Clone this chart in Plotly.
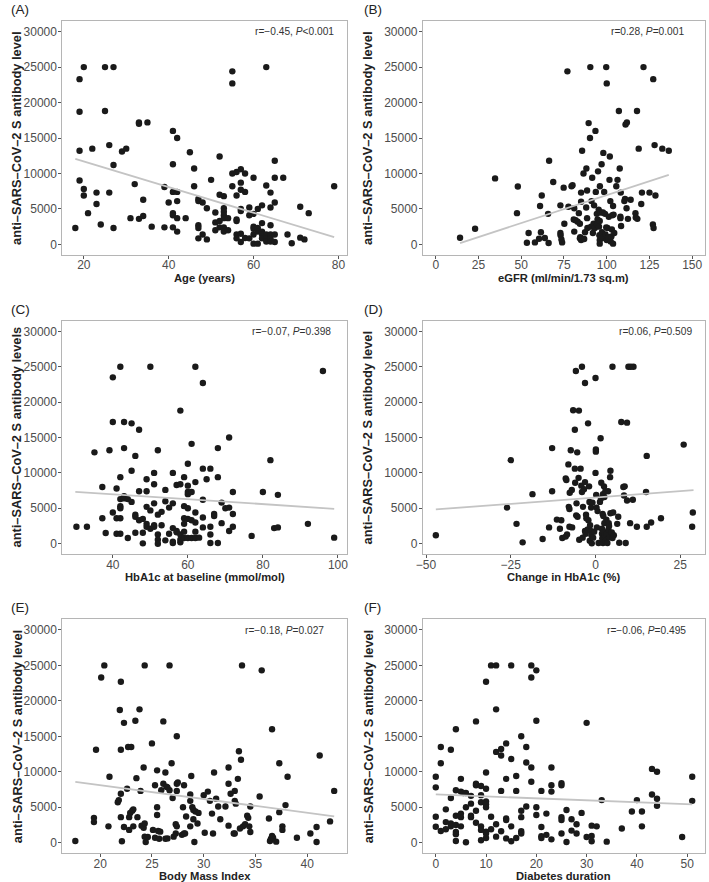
import plotly.graph_objects as go

FONT = "Liberation Sans, Arial, Helvetica, sans-serif"

# ---------------- data ----------------
# Panel A: Age (years)
age_x = [18,19,20,19,19,19,20,20,21,22,
         23,23,24,25,25,26,26,27,27,27,
         29,30,31,32,33,33,33,34,34,35,
         36,39,39,40,41,41,41,41,41,41,
         42,42,42,42,42,44,45,46,46,47,
         47,47,47,47,48,48,49,49,50,51,
         51,51,52,52,52,52,53,53,53,53,
         53,53,53,54,54,55,55,55,55,56,
         56,56,56,56,56,57,57,57,57,57,
         57,57,58,58,58,59,59,59,60,60,
         60,60,60,60,61,61,61,61,62,62,
         62,62,62,63,63,63,63,63,64,64,
         64,64,64,64,65,65,65,65,65,67,
         68,69,71,71,72,73,79]
age_y = [2300,23300,25000,18700,13200,9000,7800,6900,4400,13500,
         7300,5700,2800,25000,18800,14000,7300,25000,11200,2300,
         13100,13500,3700,8500,17000,17200,3600,4000,6300,17200,
         2500,8100,2400,5900,16000,11300,7400,4400,4100,2400,
         15000,7400,6100,3700,1800,3700,13000,10700,8200,6400,
         6100,2700,2300,850,5900,1400,5100,700,9100,4500,
         3100,2000,12400,7000,3300,2400,6800,5100,4600,4100,
         3700,2400,1800,3700,2000,24400,22700,10000,8200,10200,
         6900,3500,3300,1400,850,10600,8700,7700,5000,4700,
         1500,330,10000,7400,900,5200,4100,850,9400,4300,
         2500,2200,1400,100,5000,2300,1800,100,5500,3000,
         1800,1400,850,25000,8300,1400,850,400,7300,5200,
         2700,1400,850,400,11800,9400,5900,1400,330,9400,
         1400,150,5300,950,700,4400,8200]
age_fit_x = [18, 79]
age_fit_y = [12050, 1030]

# Panel B: eGFR
egfr_x = [14.2,23,34.7,47.5,48,53.3,54.3,58,60.4,61,
          61.5,62,63.8,65.7,66,66.3,68.7,72.9,72.9,73,
          73.5,73.9,74.8,75.2,77,77.6,79.4,80,81,80.7,
          81.8,81,83,83.7,84.3,84.5,84.3,85,85,85,
          85.6,85.6,86.4,86.8,87.3,88,88.1,88.5,88.5,88.7,
          89.4,90.2,90.4,90.8,91.1,91.5,91.9,92.3,92.6,93,
          93.4,93.6,94.2,94.4,94.6,94.9,95.3,95.5,95.7,95.9,
          95.9,95.9,96,96.6,97,97.2,97.4,97.8,98,98.5,
          99,99.3,99.7,99.7,100,100,100.4,100.6,101,101.2,
          101.6,101.8,102.1,102.3,102.7,103,103.3,103.7,103.7,104,
          104.4,105.6,106.3,107.1,107.6,108,108,108.2,108.4,110.3,
          110.7,111,111.8,111.6,112.4,114,116.8,117,117.7,117.9,
          118.7,120.2,120.6,121.5,125,127,127.2,127.4,128,128.5,
          132.5,136.3]
egfr_y = [940,2200,9300,4400,8150,230,1600,280,800,5400,
          1700,6900,900,4300,190,11800,8800,5500,1600,1300,
          700,280,8000,2900,24400,5300,8200,8350,5100,3500,
          3400,1800,3200,4400,2900,1000,850,7300,6000,600,
          800,13200,10000,750,1700,5200,10700,7600,3700,2300,
          17100,15000,25000,2500,6100,9400,1600,2900,5500,2300,
          16000,7400,4300,2800,3500,10300,4900,2500,1300,600,
          100,3300,8200,4500,11300,1700,900,4500,12900,7400,
          4300,1400,2400,25000,22700,600,2300,1000,900,3900,
          9100,12400,6100,420,1100,2100,4100,5400,100,4200,
          1600,8200,9100,18800,10700,3900,3700,7300,2600,6100,
          6400,16900,17200,5100,3600,6300,4400,3800,18800,3600,
          13500,5700,7300,25000,7300,2800,23300,2300,14000,6900,
          13500,13200]
egfr_fit_x = [14.2, 136.3]
egfr_fit_y = [190, 9800]

# Panel C: HbA1c at baseline
hba_x = [30.3,33.1,35.1,37.2,37.2,38.1,39.1,40,40,40,
         41,41,41,42,42,42,42,42,42,42,
         43,43,43,43,44,44,45,45,45,46,
         46,46,46,47,47,47,48,48,48,49,
         49,49,49,49,50,50,50,51,51,51,
         51,51,52,52,52,52,52,53,53,54,
         54,54,55,55,56,56,56,56,56,57,
         57,57,58,58,58,58,58,59,59,59,
         59,59,59,60,60,60,60,60,60,60,
         61,61,61,61,62,62,62,62,62,62,
         63,64,64,64,64,64,65,66,66,66,
         66,67,67,68,68,68,69,69,70,71,
         71,71,72,72,72,77,80,82,83,84,
         84,92,96,99]
hba_y = [2400,2400,12900,8000,3600,1500,13200,23500,17200,4400,
         7800,3600,1400,25000,9400,6300,5300,5000,3600,1400,
         17200,13500,6700,6400,6300,800,17000,10300,5900,12400,
         4100,3800,1550,16100,7400,3300,3500,1550,50,9100,
         7400,5200,2800,2400,4700,2100,25000,10000,8400,5700,
         2600,2400,13200,4100,1300,560,0,4500,2600,7600,
         6000,470,5100,1400,10000,5700,2200,280,100,8300,
         1800,1600,18800,8400,1300,560,190,9400,5300,3600,
         2800,1700,800,11300,8200,7300,7000,5000,3500,800,
         7300,14100,3300,800,25000,8700,4400,3000,1700,800,
         850,22700,10600,6200,3700,2300,9100,10600,2400,1300,
         100,4200,3900,13500,9400,100,5800,2900,5000,15000,
         5100,1800,7300,4200,2400,1100,7300,11800,2200,2300,
         6900,2800,24400,850]
hba_fit_x = [30, 99]
hba_fit_y = [7330, 4930]

# Panel D: Change in HbA1c (%)
chg_x = [-47.1,-26.1,-25.0,-23.3,-21.5,-18.6,-15.6,-13.7,-12.8,-12.8,
         -11.4,-10.5,-10.1,-9.8,-8.8,-8.8,-8.6,-8.4,-8.0,-7.9,
         -7.7,-7.7,-7.6,-7.3,-7.0,-6.9,-6.6,-6.1,-6.1,-6.0,
         -5.8,-5.7,-5.6,-5.4,-5.3,-5.0,-4.9,-4.8,-4.4,-4.2,
         -4.0,-4.0,-3.8,-3.7,-3.4,-3.1,-3.1,-3.1,-2.9,-2.8,
         -2.7,-2.3,-2.2,-2.1,-1.9,-1.8,-1.7,-1.6,-1.4,-1.3,
         -1.2,-1.1,-0.9,-0.7,-0.4,0.0,0.0,0.1,0.1,0.2,
         0.3,0.4,0.6,0.9,1.3,1.5,1.6,1.7,1.9,1.9,
         2.0,2.1,2.2,2.2,2.3,2.4,2.5,2.6,2.6,2.7,
         2.9,3.0,3.2,3.3,3.5,3.7,3.8,3.9,4.0,4.1,
         4.3,4.4,4.4,4.8,5.0,5.0,5.2,5.4,6.4,6.7,
         7.0,7.6,8.2,8.4,8.6,8.9,9.3,9.3,9.7,10.2,
         10.4,11.0,11.2,12.2,14.9,15.1,15.1,16.4,19.3,26.0,
         28.5,28.7]
chg_y = [1200,5100,11800,2800,190,7000,660,2300,7400,13500,
         3400,2100,3300,800,1000,9200,9000,1300,11200,5200,
         4900,2400,7200,13200,7600,2300,18850,16100,10600,8600,
         24400,4000,5700,12900,3800,9300,18800,560,10600,8200,
         25000,7300,850,5200,7700,1800,22700,8700,1400,4100,
         3600,2000,17000,3300,8100,5900,420,2600,1800,5100,
         1200,50,5800,850,1700,23400,10000,13300,13000,6900,
         5100,2300,4600,100,5900,14900,6400,8600,2100,1400,
         750,4200,7000,100,3900,1650,8100,2900,6600,1200,
         7400,420,3400,1400,100,7400,2000,2900,2500,900,
         9400,10300,4300,1600,25000,800,4400,1200,2800,3800,
         140,17200,8000,6800,8100,100,17100,6100,25000,2900,
         25000,6200,25000,2400,7300,12400,2400,3000,3600,14000,
         2400,4400]
chg_fit_x = [-47.1, 28.9]
chg_fit_y = [4840, 7560]

# Panel E: Body Mass Index
bmi_x = [17.6,19.4,19.4,19.6,20.1,20.4,20.8,20.9,21.7,21.8,
         21.9,22.0,22.0,22.0,22.0,22.1,22.3,22.3,22.6,22.7,
         22.8,22.8,22.9,23.0,23.1,23.2,23.2,23.4,23.5,23.6,
         23.8,23.9,24.0,24.2,24.2,24.3,24.3,24.3,24.4,24.6,
         25.0,25.1,25.3,25.3,25.5,25.5,25.5,25.6,25.7,25.8,
         25.9,26.1,26.1,26.3,26.3,26.4,26.5,26.5,26.7,26.7,
         26.9,27.0,27.1,27.3,27.3,27.4,27.4,27.4,27.4,27.5,
         27.9,28.0,28.1,28.1,28.2,28.3,28.7,28.7,28.7,28.8,
         28.9,29.0,29.0,29.1,29.2,29.4,29.5,30.1,30.0,30.4,
         30.6,30.8,30.9,31.0,31.2,31.4,31.6,32.1,32.4,32.4,
         32.4,32.6,32.9,33.0,33.0,33.0,33.1,33.3,33.4,33.5,
         33.6,33.7,33.8,34.0,34.2,34.3,34.4,34.5,34.5,35.4,
         35.6,36.3,36.4,36.5,36.6,36.6,36.7,37.0,37.3,37.3,
         37.6,37.6,37.9,38.1,39.0,40.3,40.9,40.9,41.2,42.2,
         42.6]
bmi_y = [230,3500,2900,13100,23300,25000,2300,9300,5700,6000,
         18700,6900,13100,22700,3600,190,16900,2200,7600,13500,
         1800,3600,4200,13500,4500,4700,2300,17200,9100,3600,
         18800,7300,2400,10600,2100,850,25000,2700,100,800,
         14000,1800,8100,700,10200,5000,3900,1650,560,1550,
         7400,17100,8300,9900,560,7900,7800,600,25000,7400,
         11200,6300,850,2600,1300,15000,7300,2300,8300,8500,
         1100,5000,8100,1300,1300,3700,6800,5900,2300,9400,
         5000,3300,4600,100,4400,2700,4200,1400,6700,7200,
         5900,4100,1300,9900,6200,5100,3300,5100,10600,2400,
         8300,6900,1300,7300,5900,1300,5500,9000,12900,2000,
         11700,25000,2300,2600,3800,3500,2300,1500,5100,6500,
         24300,3400,230,560,16000,940,700,140,11200,4300,
         2300,1800,5300,9300,700,1300,2200,100,12300,3000,
         7300]
bmi_fit_x = [17.6, 42.6]
bmi_fit_y = [8580, 3700]

# Panel F: Diabetes duration
dur_x = [0,0,0,0,1,1,1,2,2,2,
         3,3,3,3,4,4,4,4,4,4,
         4,5,5,5,5,5,5.5,6,6,6,
         7,7,7,7,8,8,8,8,8,9,
         9,9,9,9,9,10,10,10,10,10,
         10,10,10,10,11,11,11,12,12,12,
         12,12,13,13,13,13,14,14,14,14,
         14,15,15,15,15,16,16,16,17,17,
         17,17,17,18,18,18,19,19,19,19,
         20,20,20,20,21,21,21,21,22,22,
         23,23,23,23,25,25,25,25,25,26,
         26,27,27,28,28,29,30,30,31,31,
         31,32,33,34,37,39,40,41,41,43,
         43,44,44,44,49,51,51]
dur_y = [9300,7800,3650,2250,1650,11200,13500,4700,2900,1900,
         6300,13100,2700,2300,16000,7400,3800,2500,1500,1200,
         230,7200,9000,4100,3600,2300,7000,50,5000,7000,
         6600,5500,3800,3600,17100,8300,8100,4500,2800,8000,
         6700,5700,2300,1800,330,22700,9900,7600,5800,5400,
         5000,1550,1300,660,25000,3650,1900,25000,18800,12800,
         2600,850,13200,12300,7300,1600,14000,9000,3400,3200,
         600,25000,11800,2300,190,9400,7300,660,15000,4500,
         3600,1600,1300,13500,11300,5100,25000,23300,10600,8600,
         24300,17200,5000,3900,7300,2200,900,660,4100,1100,
         10600,8100,7200,470,8400,8100,3600,3200,1300,4600,
         100,3300,1700,2600,1300,4200,16900,800,2400,940,
         190,2300,6000,140,2000,4400,6000,4400,2300,10400,
         6800,10000,6200,5200,800,9300,5900]
dur_fit_x = [0, 51]
dur_fit_y = [6800, 5400]

panels = [
    dict(label="(A)", x=age_x, y=age_y, fx=age_fit_x, fy=age_fit_y,
         xtitle="Age (years)", ytitle="anti\u2013SARS\u2013CoV\u20132 S antibody level",
         stat="r=\u22120.45, <i>P</i>&lt;0.001",
         xrange=[14.95, 82.05], xticks=[20, 40, 60, 80]),
    dict(label="(B)", x=egfr_x, y=egfr_y, fx=egfr_fit_x, fy=egfr_fit_y,
         xtitle="eGFR (ml/min/1.73 sq.m)", ytitle="anti\u2013SARS\u2013CoV\u20132 S antibody level",
         stat="r=0.28, <i>P</i>=0.001",
         xrange=[-7.5, 157.5], xticks=[0, 25, 50, 75, 100, 125, 150]),
    dict(label="(C)", x=hba_x, y=hba_y, fx=hba_fit_x, fy=hba_fit_y,
         xtitle="HbA1c at baseline (mmol/mol)", ytitle="anti\u2013SARS\u2013CoV\u20132 S antibody levels",
         stat="r=\u22120.07, <i>P</i>=0.398",
         xrange=[26.55, 102.45], xticks=[40, 60, 80, 100]),
    dict(label="(D)", x=chg_x, y=chg_y, fx=chg_fit_x, fy=chg_fit_y,
         xtitle="Change in HbA1c (%)", ytitle="anti\u2013SARS\u2013CoV\u20132 S antibody level",
         stat="r=0.06, <i>P</i>=0.509",
         xrange=[-50.9, 32.3], xticks=[-50, -25, 0, 25]),
    dict(label="(E)", x=bmi_x, y=bmi_y, fx=bmi_fit_x, fy=bmi_fit_y,
         xtitle="Body Mass Index", ytitle="anti\u2013SARS\u2013CoV\u20132 S antibody level",
         stat="r=\u22120.18, <i>P</i>=0.027",
         xrange=[16.35, 43.85], xticks=[20, 25, 30, 35, 40]),
    dict(label="(F)", x=dur_x, y=dur_y, fx=dur_fit_x, fy=dur_fit_y,
         xtitle="Diabetes duration", ytitle="anti\u2013SARS\u2013CoV\u20132 S antibody level",
         stat="r=\u22120.06, <i>P</i>=0.495",
         xrange=[-2.55, 53.55], xticks=[0, 10, 20, 30, 40, 50]),
]
y_ticks = [0, 5000, 10000, 15000, 20000, 25000, 30000]

# ---------------- layout geometry (pixels) ----------------
W, H = 709, 882
col_px = [(56, 344), (420.7, 706)]
row_px = [(21, 255), (320.7, 554.3), (619.3, 853.3)]
stat_fx = [0.962, 0.933, 0.951, 0.960, 0.926, 0.940]
label_px = [(2, 10), (359, 10), (2, 309), (359, 309), (2, 607), (359, 607)]
ytitle_x = [10, 365]

fig = go.Figure()
layout = dict(width=W, height=H, margin=dict(l=0, r=0, t=0, b=0),
              paper_bgcolor="white", plot_bgcolor="white", showlegend=False,
              font=dict(family=FONT, color="#333333"))
annotations = []

for i, p in enumerate(panels):
    r, c = divmod(i, 2)
    n = i + 1
    xa = "x" if n == 1 else f"x{n}"
    ya = "y" if n == 1 else f"y{n}"
    x0, x1 = col_px[c]
    top, bot = row_px[r]
    axis_common = dict(showline=True, mirror=True, linecolor="#b5b5b5", linewidth=1,
                       ticks="outside", ticklen=3, tickwidth=1, tickcolor="#555555",
                       tickfont=dict(family=FONT, size=12, color="#4d4d4d"),
                       showgrid=False, zeroline=False, tickformat="d")
    layout["xaxis" if n == 1 else f"xaxis{n}"] = dict(
        domain=[x0 / W, x1 / W], anchor=ya, range=p["xrange"],
        tickmode="array", tickvals=p["xticks"], ticklabelstandoff=-4, **axis_common)
    layout["yaxis" if n == 1 else f"yaxis{n}"] = dict(
        domain=[1 - bot / H, 1 - top / H], anchor=xa, range=[-1500, 31500],
        tickmode="array", tickvals=y_ticks, ticklabelstandoff=-1, **axis_common)

    fig.add_trace(go.Scatter(x=p["x"], y=p["y"], mode="markers", xaxis=xa, yaxis=ya,
                             marker=dict(size=6.4, color="#1a1a1a", line=dict(width=0))))
    fig.add_trace(go.Scatter(x=p["fx"], y=p["fy"], mode="lines", xaxis=xa, yaxis=ya,
                             line=dict(color="#c4c4c4", width=1.8)))

    annotations.append(dict(text=p["stat"], xref=f"{xa} domain", yref=f"{ya} domain",
                            x=stat_fx[i], y=0.953, xanchor="right", yanchor="middle",
                            showarrow=False, font=dict(family=FONT, size=10.2, color="#333333")))
    lx, ly = label_px[i]
    annotations.append(dict(text=p["label"], xref="paper", yref="paper",
                            x=lx / W, y=1 - ly / H, xanchor="left", yanchor="middle",
                            showarrow=False, font=dict(family=FONT, size=13.5, color="#222222")))
    annotations.append(dict(text=f"<b>{p['xtitle']}</b>", xref="paper", yref="paper",
                            x=(x0 + x1) / 2 / W, y=1 - (bot + 22.7) / H,
                            xanchor="center", yanchor="middle", showarrow=False,
                            font=dict(family=FONT, size=11.2, color="#222222")))
    annotations.append(dict(text=f"<b>{p['ytitle']}</b>", xref="paper", yref="paper",
                            x=ytitle_x[c] / W, y=1 - (top + bot) / 2 / H, textangle=-90,
                            xanchor="center", yanchor="middle", showarrow=False,
                            font=dict(family=FONT, size=12.8, color="#222222")))

layout["annotations"] = annotations
fig.update_layout(**layout)
fig.write_html("out.html", config={"displayModeBar": False},
               post_script="document.body.style.margin='0';document.body.style.padding='0';")
